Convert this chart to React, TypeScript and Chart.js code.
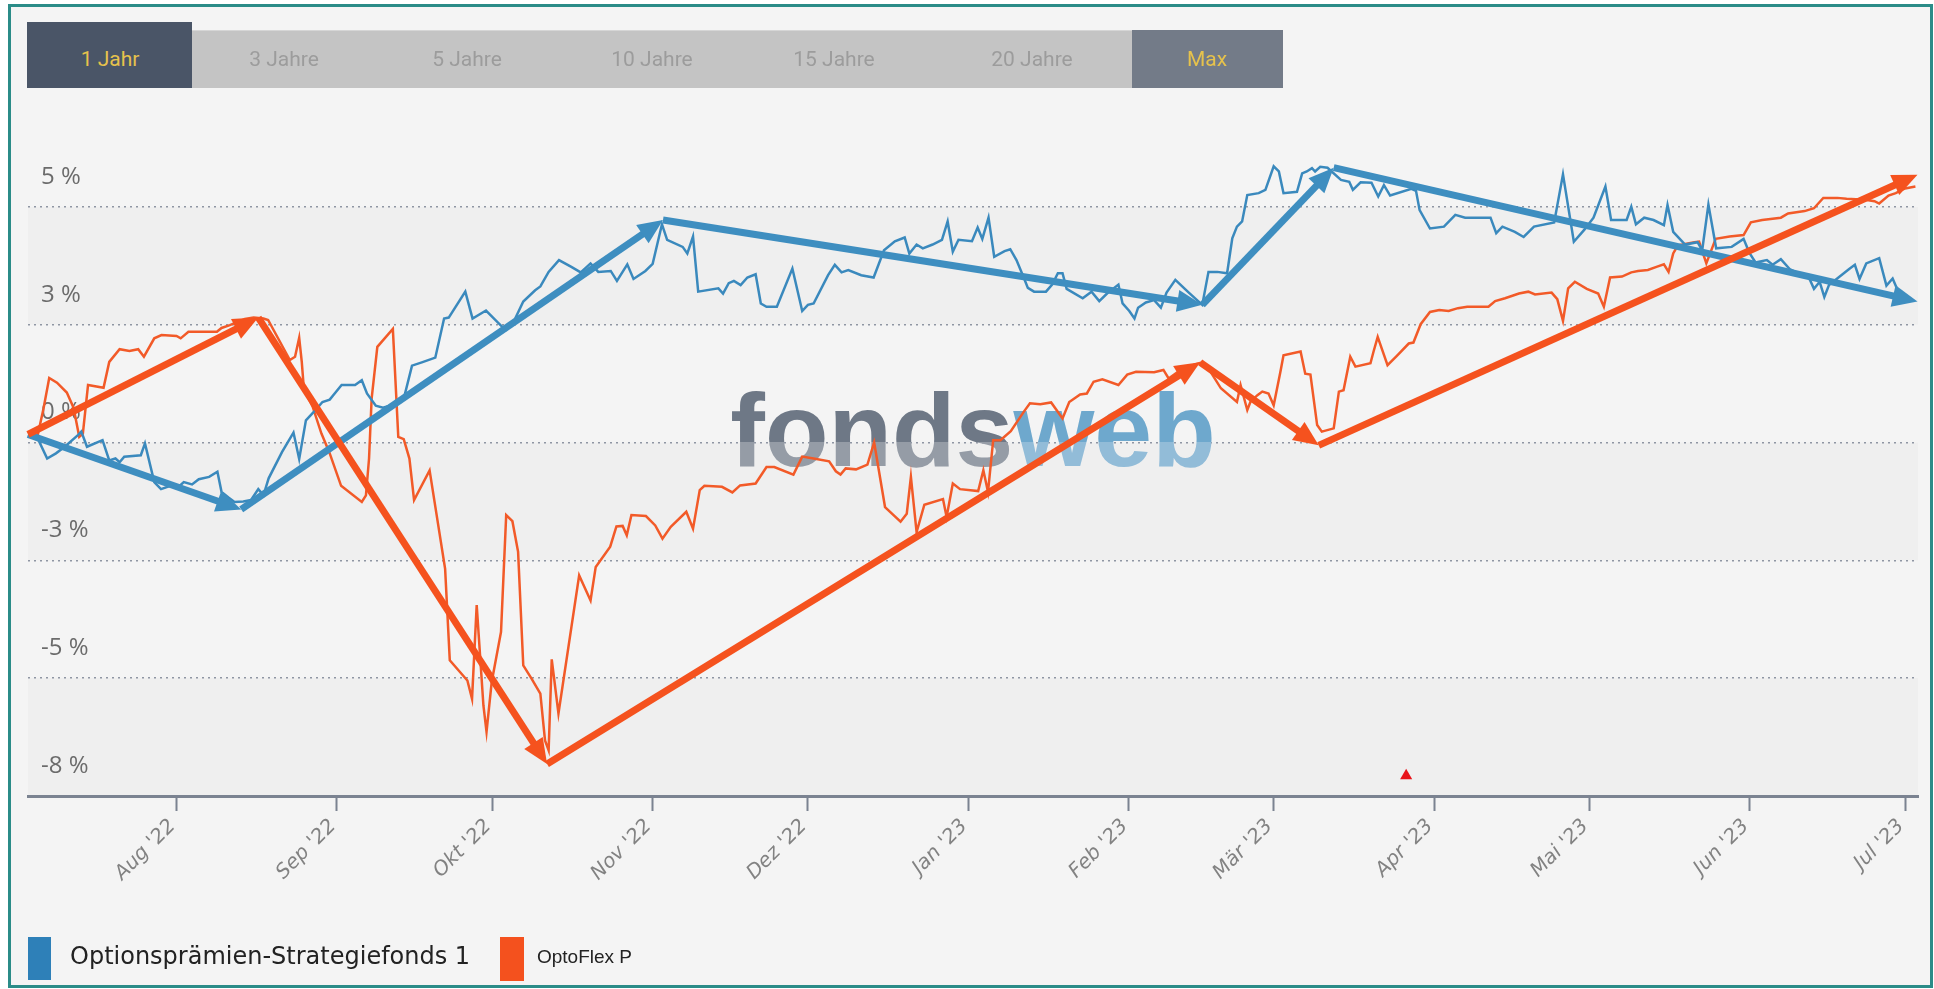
import React, { useEffect, useRef } from 'react';
import { Chart, registerables } from 'chart.js';

Chart.register(...registerables);

// ---- x axis: days since 2022-07-01 ----
const xMinDay = 2.3;
const xMaxDay = 367.5;
const monthDays = [31, 62, 92, 123, 153, 184, 215, 243, 274, 304, 335, 365];
const monthLabels = ["Aug '22", "Sep '22", "Okt '22", "Nov '22", "Dez '22", "Jan '23", "Feb '23", "Mär '23", "Apr '23", "Mai '23", "Jun '23", "Jul '23"];

// ---- y axis ----
const yMin = -7.5;
const yMax = 7.5;
const yTickValues = [-7.5, -5, -2.5, 0, 2.5, 5];
const yTickLabels = ['-8 %', '-5 %', '-3 %', '0 %', '3 %', '5 %'];
const bandRanges = [[2.5, 5], [-2.5, 0], [-7.5, -5]];

// ---- names ----
const rangeButtons = ['1 Jahr', '3 Jahre', '5 Jahre', '10 Jahre', '15 Jahre', '20 Jahre', 'Max'];
const seriesNames = ['Optionsprämien-Strategiefonds 1', 'OptoFlex P'];

// ---- Optionsprämien-Strategiefonds 1 (blue) ----
const blueDays = [2.5, 4.2, 6.0, 7.7, 9.4, 12.0, 12.6, 13.7, 16.7, 18.0, 19.2, 20.0, 20.9, 24.1, 24.9, 26.7, 28.0, 30.1, 31.2, 32.4, 34.0, 35.3, 37.3, 38.9, 39.7, 41.1, 42.2, 43.9, 45.4, 46.8, 47.8, 48.8, 51.4, 53.6, 54.7, 56.0, 57.7, 59.2, 60.6, 61.4, 62.9, 65.5, 66.8, 67.8, 69.5, 70.9, 73.0, 75.0, 76.5, 78.4, 81.0, 82.7, 83.6, 86.8, 88.2, 90.8, 94.6, 96.1, 98.0, 100.3, 101.3, 102.9, 104.9, 107.2, 109.1, 111.0, 112.5, 114.9, 116.1, 118.1, 119.3, 121.6, 123.0, 124.8, 125.8, 128.8, 129.7, 130.8, 131.8, 135.7, 136.6, 137.7, 138.7, 140.0, 141.3, 142.9, 143.9, 145.0, 147.0, 150.0, 151.9, 153.0, 154.1, 156.9, 158.2, 159.5, 160.8, 163.3, 165.7, 167.7, 169.8, 171.7, 172.6, 174.0, 175.2, 177.1, 178.9, 180.0, 181.0, 182.1, 184.7, 185.8, 186.7, 187.9, 189.0, 191.0, 192.1, 193.3, 194.7, 195.5, 196.7, 199.0, 200.2, 201.3, 202.2, 203.0, 206.1, 207.8, 209.3, 210.8, 213.0, 213.8, 215.1, 216.1, 216.8, 218.3, 219.9, 221.2, 222.3, 224.0, 226.6, 229.2, 230.4, 232.1, 234.0, 235.0, 235.9, 236.9, 237.9, 240.1, 241.4, 243.0, 244.0, 244.9, 247.5, 248.5, 249.4, 250.4, 251.0, 252.0, 253.4, 256.0, 257.6, 258.3, 259.8, 261.9, 263.2, 264.3, 265.5, 269.6, 270.5, 271.2, 273.2, 275.9, 278.1, 280.0, 284.9, 286.0, 287.2, 289.6, 291.3, 293.3, 297.2, 298.9, 301.0, 303.0, 304.8, 307.1, 308.2, 311.2, 312.1, 313.0, 314.6, 316.4, 318.4, 319.1, 320.2, 322.5, 324.9, 325.8, 327.0, 328.5, 331.5, 333.8, 334.9, 336.1, 338.3, 339.4, 341.0, 342.7, 346.5, 347.4, 348.5, 349.4, 350.3, 354.2, 355.3, 356.2, 357.5, 360.0, 361.4, 362.6, 364.4, 365.5];
const blueVals = [0.17, 0.08, -0.34, -0.23, -0.09, 0.16, 0.23, -0.09, 0.05, -0.38, -0.34, -0.42, -0.30, -0.27, -0.02, -0.84, -0.99, -0.91, -0.96, -0.84, -0.89, -0.78, -0.73, -0.62, -1.05, -1.17, -1.26, -1.25, -1.22, -0.99, -1.12, -0.76, -0.20, 0.21, -0.35, 0.47, 0.67, 0.86, 0.91, 1.02, 1.22, 1.22, 1.32, 1.04, 0.78, 0.74, 0.81, 0.97, 1.63, 1.70, 1.80, 2.63, 2.65, 3.20, 2.63, 2.80, 2.38, 2.55, 2.99, 3.23, 3.31, 3.62, 3.87, 3.73, 3.61, 3.80, 3.62, 3.64, 3.43, 3.78, 3.47, 3.64, 3.79, 4.63, 4.30, 4.15, 4.01, 4.37, 3.20, 3.27, 3.16, 3.38, 3.43, 3.34, 3.50, 3.57, 2.95, 2.88, 2.88, 3.69, 2.79, 2.92, 2.95, 3.55, 3.77, 3.61, 3.66, 3.55, 3.50, 4.08, 4.27, 4.35, 4.01, 4.20, 4.12, 4.20, 4.30, 4.69, 4.05, 4.30, 4.27, 4.56, 4.32, 4.77, 3.94, 4.06, 4.10, 3.87, 3.50, 3.28, 3.20, 3.20, 3.35, 3.59, 3.59, 3.26, 3.06, 3.20, 3.00, 3.16, 3.35, 2.95, 2.79, 2.63, 2.86, 2.97, 3.02, 2.86, 3.18, 3.45, 3.18, 2.92, 3.62, 3.62, 3.59, 4.33, 4.58, 4.69, 5.25, 5.29, 5.36, 5.86, 5.75, 5.29, 5.32, 5.71, 5.75, 5.82, 5.75, 5.85, 5.83, 5.57, 5.53, 5.36, 5.52, 5.51, 5.22, 5.46, 5.24, 5.38, 5.34, 4.93, 4.54, 4.58, 4.83, 4.77, 4.77, 4.44, 4.58, 4.47, 4.36, 4.58, 4.67, 5.69, 4.26, 4.51, 4.77, 5.43, 4.72, 4.72, 5.00, 4.63, 4.77, 4.72, 4.61, 5.04, 4.47, 4.20, 4.25, 4.08, 5.05, 4.12, 4.15, 4.32, 4.03, 3.82, 3.87, 3.77, 3.89, 3.68, 3.48, 3.26, 3.41, 3.09, 3.34, 3.68, 3.77, 3.47, 3.80, 3.91, 3.33, 3.48, 3.02, 3.06];

// ---- OptoFlex P (orange) ----
const orangeDays = [2.5, 4.0, 5.3, 6.4, 7.9, 9.8, 11.1, 12.2, 12.9, 13.9, 16.9, 18.0, 20.0, 21.9, 23.6, 24.7, 26.7, 28.1, 31.0, 31.8, 33.3, 38.8, 39.7, 41.3, 42.6, 44.2, 45.9, 47.8, 48.7, 52.9, 53.9, 54.7, 55.2, 55.6, 57.3, 59.0, 60.5, 62.8, 66.8, 67.6, 68.2, 68.7, 69.8, 72.8, 73.85, 74.9, 76.0, 76.9, 79.9, 82.9, 83.8, 87.2, 88.1, 89.0, 90.3, 90.9, 91.9, 93.7, 94.7, 95.9, 97.0, 98.0, 99.6, 101.3, 102.2, 102.9, 103.5, 104.8, 108.8, 111.0, 112.0, 114.8, 116.0, 117.2, 118.0, 118.9, 121.7, 123.5, 124.9, 126.5, 129.5, 130.8, 132.1, 133.0, 136.4, 138.4, 139.9, 142.9, 145.0, 146.5, 150.2, 151.9, 154.1, 157.1, 158.4, 159.3, 160.3, 162.3, 164.5, 165.8, 167.9, 170.9, 172.1, 172.9, 174.0, 175.5, 179.1, 179.8, 181.0, 182.4, 185.9, 186.9, 187.8, 188.8, 190.2, 192.2, 194.7, 195.9, 197.9, 200.0, 202.2, 203.5, 205.6, 206.9, 208.2, 209.9, 213.0, 214.7, 216.4, 219.9, 221.7, 222.7, 224.9, 227.9, 229.2, 230.8, 232.8, 235.9, 236.6, 237.9, 238.5, 239.8, 240.8, 242.0, 243.0, 244.3, 244.9, 248.2, 249.1, 250.1, 251.4, 252.3, 254.6, 255.6, 256.5, 257.8, 258.8, 261.7, 262.3, 263.1, 265.0, 266.8, 269.1, 270.0, 271.4, 273.2, 275.0, 276.8, 278.6, 280.4, 284.5, 285.8, 287.7, 290.4, 292.2, 293.5, 296.7, 297.8, 298.9, 299.9, 301.2, 303.5, 305.7, 306.8, 308.0, 310.3, 312.1, 313.4, 315.3, 317.1, 318.4, 319.3, 320.2, 321.1, 324.3, 325.2, 326.6, 328.4, 331.1, 333.8, 335.2, 337.4, 341.0, 342.4, 345.6, 347.4, 349.2, 351.9, 353.7, 357.3, 359.1, 360.0, 361.8, 363.2, 365.0, 367.0];
const orangeVals = [0.17, 0.07, 0.72, 1.37, 1.27, 1.06, 0.74, 0.12, 0.19, 1.22, 1.16, 1.71, 1.98, 1.94, 1.98, 1.82, 2.21, 2.28, 2.26, 2.21, 2.35, 2.35, 2.43, 2.49, 2.55, 2.62, 2.65, 2.63, 2.60, 1.75, 1.82, 2.22, 1.71, 1.15, 0.76, 0.19, -0.20, -0.92, -1.26, -1.12, -0.34, 0.93, 2.03, 2.41, 0.12, 0.07, -0.34, -1.22, -0.59, -2.68, -4.62, -5.05, -5.44, -3.45, -5.58, -6.14, -5.08, -4.02, -1.54, -1.67, -2.32, -4.73, -5.01, -5.33, -6.32, -6.53, -4.60, -5.75, -2.82, -3.35, -2.64, -2.21, -1.78, -1.77, -1.97, -1.54, -1.56, -1.76, -2.04, -1.79, -1.47, -1.83, -1.01, -0.92, -0.94, -1.06, -0.91, -0.87, -0.52, -0.52, -0.68, -0.30, -0.34, -0.40, -0.61, -0.68, -0.55, -0.57, -0.47, 0.00, -1.37, -1.68, -1.51, -0.73, -1.90, -1.32, -1.20, -1.58, -0.87, -0.99, -1.03, -0.59, -1.05, 0.05, 0.05, 0.24, 0.65, 0.83, 0.81, 0.85, 0.51, 0.86, 1.02, 1.04, 1.29, 1.34, 1.22, 1.44, 1.50, 1.49, 1.54, 1.36, 1.53, 1.66, 1.70, 1.50, 1.15, 0.86, 1.22, 0.69, 0.86, 1.00, 1.08, 1.04, 0.79, 1.50, 1.85, 1.93, 1.46, 1.44, 0.37, 0.23, 0.30, 1.08, 1.11, 1.82, 1.61, 1.68, 1.93, 2.24, 1.64, 1.84, 2.10, 2.12, 2.51, 2.77, 2.81, 2.79, 2.85, 2.88, 2.88, 3.00, 3.06, 3.16, 3.20, 3.14, 3.18, 3.04, 2.58, 3.27, 3.41, 3.26, 3.16, 2.88, 3.50, 3.52, 3.61, 3.64, 3.66, 3.73, 3.78, 3.62, 4.01, 4.18, 4.25, 4.26, 3.80, 4.32, 4.37, 4.40, 4.67, 4.72, 4.77, 4.86, 4.91, 4.97, 5.19, 5.19, 5.17, 5.15, 5.12, 5.07, 5.24, 5.29, 5.39, 5.43];

// ---- hand-drawn trend arrows (vertices) ----
const blueArrowDays = [2.3, 43.5, 125.0, 229.2, 254.6, 367.4];
const blueArrowVals = [0.17, -1.42, 4.72, 2.92, 5.83, 2.99];
const orangeArrowDays = [2.3, 46.8, 102.6, 228.8, 251.7, 367.4];
const orangeArrowVals = [0.17, 2.65, -6.82, 1.70, -0.06, 5.68];

// ---- event marker ----
const eventDays = [268.6];
const eventVals = [-7.07];

const BLUE = '#3a89bd';
const ORANGE = '#f25a28';
const BLUE_ARROW = '#3e8ec0';
const ORANGE_ARROW = '#f5521e';

const toXY = (xs: number[], ys: number[]) => xs.map((x, i) => ({ x, y: ys[i] }));

const bandsPlugin = {
  id: 'bands',
  beforeDraw(chart: any) {
    const { ctx, chartArea } = chart;
    const ys = chart.scales.y;
    ctx.save();
    ctx.fillStyle = '#efefef';
    bandRanges.forEach(([lo, hi]) => {
      const y1 = ys.getPixelForValue(hi);
      const y2 = ys.getPixelForValue(lo);
      ctx.fillRect(chartArea.left, y1, chartArea.right - chartArea.left, y2 - y1);
    });
    ctx.restore();
  },
};

const underlayPlugin = {
  id: 'underlay',
  beforeDatasetsDraw(chart: any) {
    const { ctx, chartArea } = chart;
    const ys = chart.scales.y;
    // watermark
    ctx.save();
    ctx.font = 'bold 104px "Liberation Sans", Arial, sans-serif';
    ctx.textBaseline = 'alphabetic';
    ctx.textAlign = 'left';
    const w1 = ctx.measureText('fonds').width;
    const w2 = ctx.measureText('web').width;
    const cx = (chartArea.left + chartArea.right) / 2;
    const x0 = cx - (w1 + w2) / 2;
    const base = ys.getPixelForValue(0) + 23;
    const top = base - 79;
    const split = (ys.getPixelForValue(0) - top) / (base - top);
    const g1 = ctx.createLinearGradient(0, top, 0, base);
    g1.addColorStop(0, '#6e7886');
    g1.addColorStop(split, '#6e7886');
    g1.addColorStop(split, '#959ca6');
    g1.addColorStop(1, '#959ca6');
    const g2 = ctx.createLinearGradient(0, top, 0, base);
    g2.addColorStop(0, '#6ea8cd');
    g2.addColorStop(split, '#6ea8cd');
    g2.addColorStop(split, '#92bcd8');
    g2.addColorStop(1, '#92bcd8');
    ctx.fillStyle = g1;
    ctx.fillText('fonds', x0, base);
    ctx.fillStyle = g2;
    ctx.fillText('web', x0 + w1, base);
    ctx.restore();

    // y labels
    ctx.save();
    ctx.font = '24px "Open Sans", sans-serif';
    ctx.fillStyle = '#6b6b6b';
    ctx.textAlign = 'left';
    ctx.textBaseline = 'middle';
    yTickValues.forEach((v, i) => {
      ctx.fillText(yTickLabels[i], chartArea.left + 13, ys.getPixelForValue(v) - 30);
    });
    ctx.restore();
  },
};

const overlayPlugin = {
  id: 'overlay',
  afterDatasetsDraw(chart: any) {
    const { ctx } = chart;
    const drawChain = (idx: number, color: string) => {
      const pts = chart.getDatasetMeta(idx).data;
      ctx.save();
      ctx.strokeStyle = color;
      ctx.fillStyle = color;
      ctx.lineWidth = 7;
      ctx.lineCap = 'butt';
      const len = 25;
      const hw = 11;
      for (let i = 1; i < pts.length; i++) {
        const a = pts[i - 1];
        const b = pts[i];
        const dx = b.x - a.x;
        const dy = b.y - a.y;
        const d = Math.hypot(dx, dy);
        const ux = dx / d;
        const uy = dy / d;
        const bx = b.x - ux * (len - 2);
        const by = b.y - uy * (len - 2);
        ctx.beginPath();
        ctx.moveTo(a.x, a.y);
        ctx.lineTo(bx, by);
        ctx.stroke();
        const cxp = b.x - ux * len;
        const cyp = b.y - uy * len;
        ctx.beginPath();
        ctx.moveTo(b.x, b.y);
        ctx.lineTo(cxp - uy * hw, cyp + ux * hw);
        ctx.lineTo(cxp + uy * hw, cyp - ux * hw);
        ctx.closePath();
        ctx.fill();
      }
      ctx.restore();
    };
    drawChain(2, BLUE_ARROW);
    drawChain(3, ORANGE_ARROW);
  },
  afterDraw(chart: any) {
    const { ctx, chartArea } = chart;
    const xs = chart.scales.x;
    ctx.save();
    ctx.font = 'italic 20px "DejaVu Sans", Verdana, sans-serif';
    ctx.fillStyle = '#828282';
    ctx.textAlign = 'right';
    ctx.textBaseline = 'middle';
    monthDays.forEach((d, i) => {
      const x = xs.getPixelForValue(d);
      ctx.save();
      ctx.translate(x - 4, chartArea.bottom + 27);
      ctx.rotate(-Math.PI / 4);
      ctx.fillText(monthLabels[i], 0, 0);
      ctx.restore();
    });
    ctx.restore();
  },
};

function ChartCanvas() {
  const ref = useRef<HTMLCanvasElement | null>(null);
  useEffect(() => {
    if (!ref.current) return;
    const chart = new Chart(ref.current, {
      type: 'line',
      data: {
        datasets: [
          {
            label: seriesNames[0],
            data: toXY(blueDays, blueVals),
            borderColor: BLUE,
            borderWidth: 2.5,
            pointRadius: 0,
            tension: 0,
            fill: false,
            order: 1,
          },
          {
            label: seriesNames[1],
            data: toXY(orangeDays, orangeVals),
            borderColor: ORANGE,
            borderWidth: 2.5,
            pointRadius: 0,
            tension: 0,
            fill: false,
            order: 2,
          },
          {
            label: 'blue trend',
            data: toXY(blueArrowDays, blueArrowVals),
            showLine: false,
            pointRadius: 0,
            borderWidth: 0,
            clip: false,
            order: 3,
          },
          {
            label: 'orange trend',
            data: toXY(orangeArrowDays, orangeArrowVals),
            showLine: false,
            pointRadius: 0,
            borderWidth: 0,
            clip: false,
            order: 4,
          },
          {
            label: 'event',
            data: toXY(eventDays, eventVals),
            showLine: false,
            pointStyle: 'triangle',
            pointRadius: 7,
            pointBackgroundColor: '#e8141a',
            pointBorderColor: '#e8141a',
            pointBorderWidth: 0,
            clip: false,
            order: 0,
          },
        ],
      },
      options: {
        responsive: false,
        animation: false,
        devicePixelRatio: 1,
        events: [],
        layout: { padding: { left: 28, right: 16, top: 89, bottom: 178 } },
        plugins: { legend: { display: false }, tooltip: { enabled: false } },
        scales: {
          x: {
            type: 'linear',
            min: xMinDay,
            max: xMaxDay,
            afterBuildTicks: (s: any) => {
              s.ticks = monthDays.map((v) => ({ value: v }));
            },
            ticks: { display: false },
            grid: {
              display: true,
              drawOnChartArea: false,
              drawTicks: true,
              tickLength: 15,
              tickColor: '#7b8391',
              tickWidth: 2,
            },
            border: { display: true, color: '#7b8391', width: 3 },
          },
          y: {
            type: 'linear',
            min: yMin,
            max: yMax,
            afterBuildTicks: (s: any) => {
              s.ticks = yTickValues.map((v) => ({ value: v }));
            },
            ticks: { display: false },
            grid: { color: '#8f96a3', lineWidth: 1.5, drawTicks: false },
            border: { display: false, dash: [2, 4] },
          },
        },
      },
      plugins: [bandsPlugin, underlayPlugin, overlayPlugin],
    } as any);
    return () => chart.destroy();
  }, []);
  return (
    <canvas
      ref={ref}
      width={1934}
      height={989}
      style={{ position: 'absolute', left: 0, top: 0, width: 1934, height: 989 }}
    />
  );
}

const btnCenters = [110, 284, 467, 652, 834, 1032, 1207];

export default function App() {
  useEffect(() => {
    document.body.style.overflow = 'hidden';
  }, []);
  const btnFont = '"Liberation Sans Narrow", "Roboto", sans-serif';
  return (
    <div style={{ position: 'absolute', left: 0, top: 0, width: 1934, height: 989, overflow: 'hidden', background: '#ffffff' }}>
      <div
        style={{
          position: 'absolute',
          left: 8,
          top: 4,
          width: 1925,
          height: 984,
          boxSizing: 'border-box',
          border: '3px solid #2b8c88',
          background: '#f4f4f4',
        }}
      />
      <ChartCanvas />
      {/* range selector */}
      <div style={{ position: 'absolute', left: 192, top: 30, width: 940, height: 58, background: '#c4c4c4', borderTop: '1px solid #d6d6d6', boxSizing: 'border-box' }} />
      <div style={{ position: 'absolute', left: 27, top: 22, width: 165, height: 66, background: '#4a5567' }} />
      <div style={{ position: 'absolute', left: 1132, top: 30, width: 151, height: 58, background: '#737b88' }} />
      {rangeButtons.map((t, i) => (
        <div
          key={t}
          style={{
            position: 'absolute',
            left: btnCenters[i] - 80,
            top: 46,
            width: 160,
            textAlign: 'center',
            fontFamily: btnFont,
            fontSize: 21,
            lineHeight: '26px',
            color: i === 0 || i === rangeButtons.length - 1 ? '#e6c24c' : '#9c9c9c',
          }}
        >
          {t}
        </div>
      ))}
      {/* legend */}
      <div style={{ position: 'absolute', left: 28, top: 937, width: 23, height: 43, background: '#2e80b8' }} />
      <div style={{ position: 'absolute', left: 70, top: 940, fontFamily: '"DejaVu Sans", Verdana, sans-serif', fontSize: 24, lineHeight: '32px', color: '#222' }}>
        {seriesNames[0]}
      </div>
      <div style={{ position: 'absolute', left: 500, top: 937, width: 24, height: 44, background: '#f4511e' }} />
      <div style={{ position: 'absolute', left: 537, top: 943, fontFamily: '"Liberation Sans", Arial, sans-serif', fontSize: 19, lineHeight: '28px', color: '#222' }}>
        {seriesNames[1]}
      </div>
    </div>
  );
}
